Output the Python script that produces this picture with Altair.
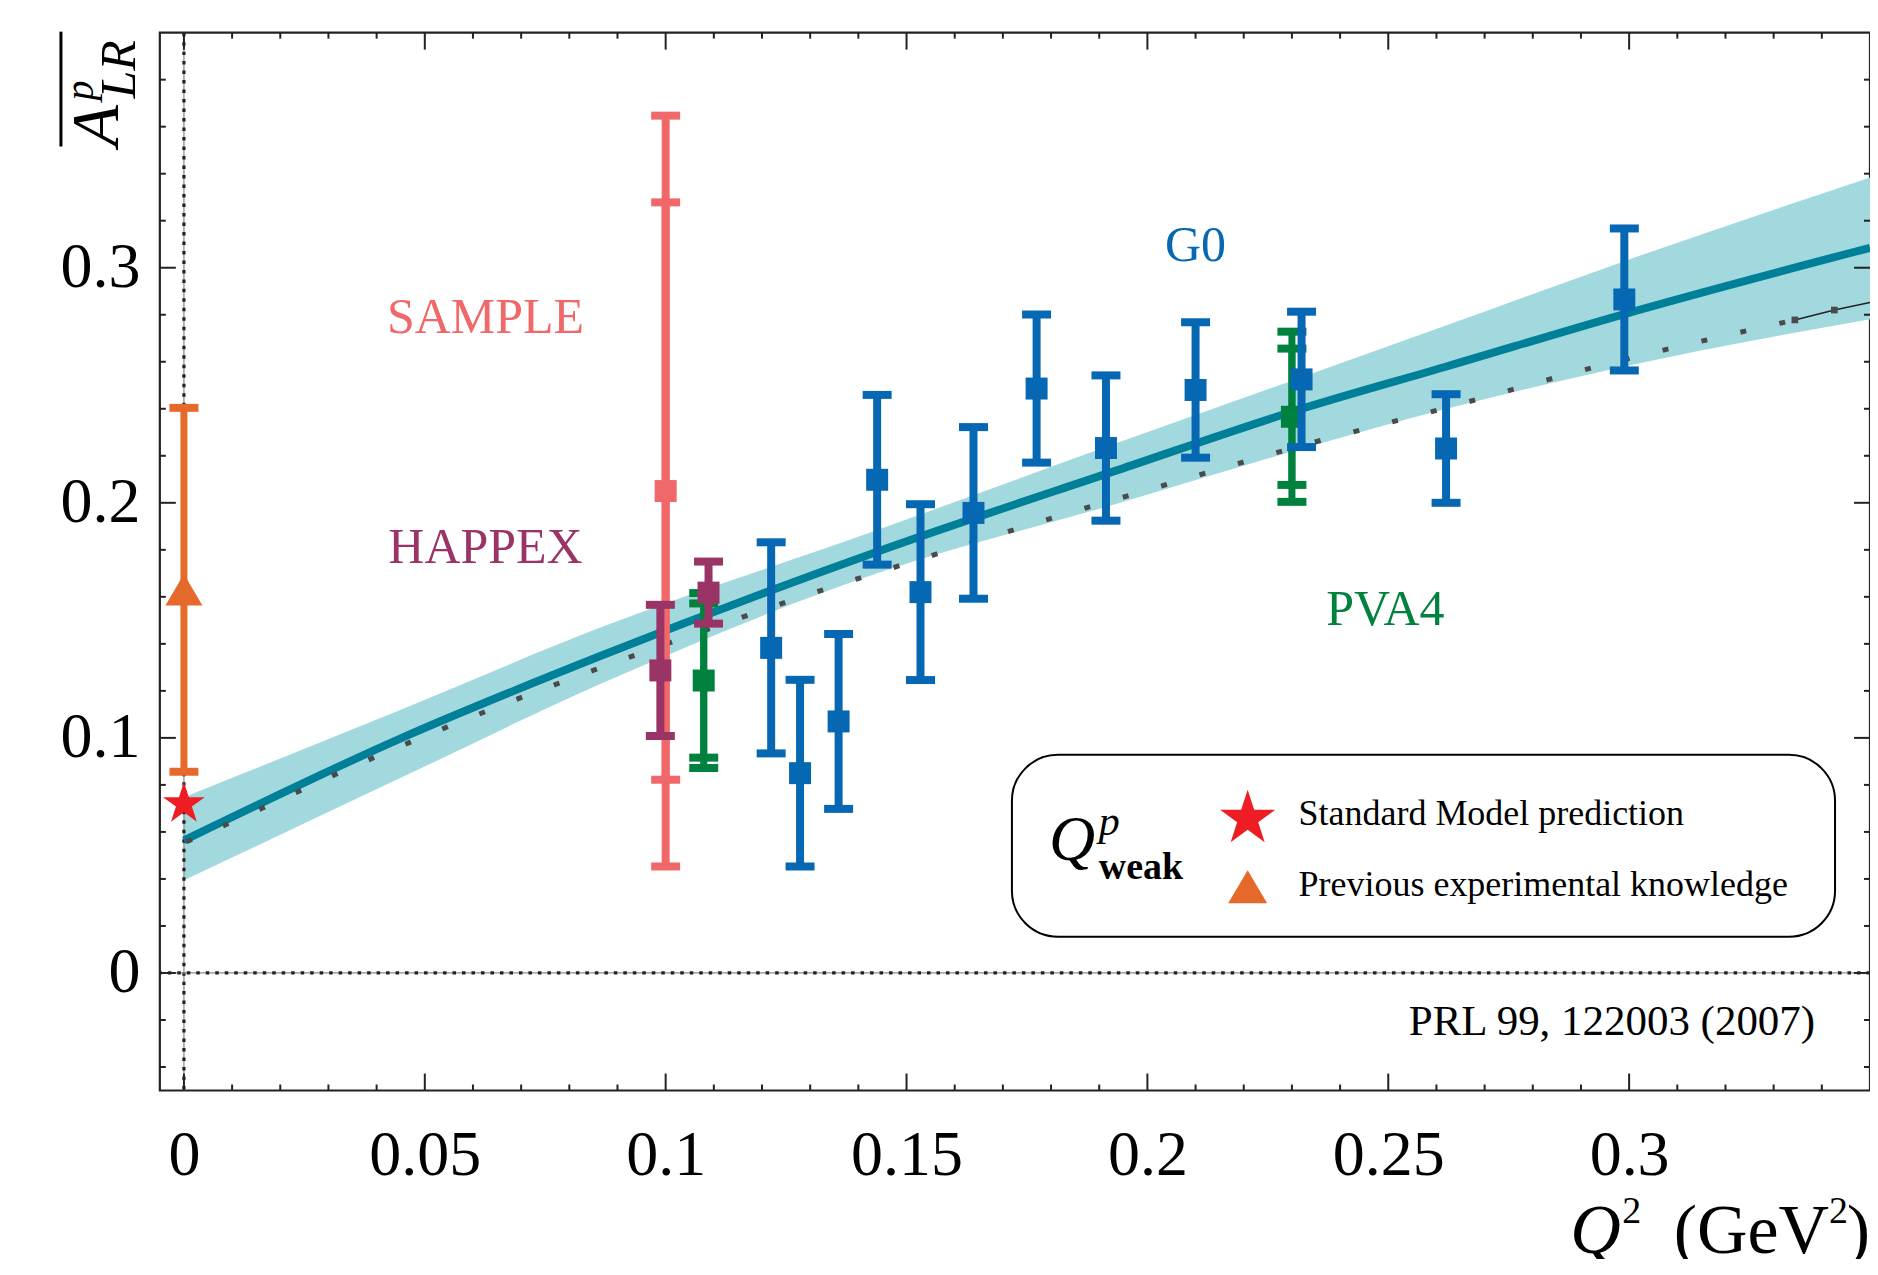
import altair as alt
import pandas as pd

# ------------------------------------------------------------------ data
g0_q2 = [0.1219, 0.1279, 0.1359, 0.1439, 0.1529, 0.1639, 0.1770, 0.1914, 0.2100, 0.2320, 0.2620, 0.2990]
g0_a = [0.1383, 0.0850, 0.1070, 0.2098, 0.1620, 0.1957, 0.2486, 0.2233, 0.2480, 0.2525, 0.2231, 0.2865]
g0_err = [0.0449, 0.0397, 0.0372, 0.0361, 0.0374, 0.0365, 0.0315, 0.0309, 0.0288, 0.0288, 0.0231, 0.0302]

happex_q2 = [0.0989, 0.1089]
happex_a = [0.1287, 0.1618]
happex_err = [0.0279, 0.0132]

pva4_q2 = [0.1079, 0.2300]
pva4_a = [0.1244, 0.2366]
pva4_stat = [0.0328, 0.0290]
pva4_tot = [0.0372, 0.0362]

sample_q2 = [0.1000]
sample_a = [0.2050]
sample_stat = [0.1228]
sample_tot = [0.1597]

prev_q2 = [0.0]
prev_a = [0.163]
prev_err = [0.0774]

sm_q2 = [0.0]
sm_a = [0.0719]

theory_q2 = [0.0, 0.0449, 0.0863, 0.1439, 0.1938, 0.2320, 0.2621, 0.2990, 0.3500]
theory_a = [0.0564, 0.0997, 0.1347, 0.1792, 0.2139, 0.2400, 0.2580, 0.2803, 0.3085]
band_lo = [0.0394, 0.0829, 0.1228, 0.1700, 0.1997, 0.2230, 0.2400, 0.2580, 0.2781]
band_hi = [0.0747, 0.1119, 0.1468, 0.1884, 0.2255, 0.2534, 0.2755, 0.3028, 0.3384]

dotted_q2 = [0.0005, 0.0079, 0.0377, 0.0678, 0.0831, 0.1139, 0.1294, 0.1528, 0.1683,
             0.1839, 0.1995, 0.2309, 0.2625, 0.2940, 0.3344]
dotted_a = [0.0558, 0.0624, 0.0901, 0.1154, 0.1273, 0.1499, 0.1608, 0.1760, 0.1860,
            0.1958, 0.2051, 0.2237, 0.2407, 0.2583, 0.2778]
tail_q2 = [0.3344, 0.3426, 0.3500]
tail_a = [0.2778, 0.2820, 0.2852]

x_major = [0, 0.05, 0.1, 0.15, 0.2, 0.25, 0.3]
x_minor = [0.01, 0.02, 0.03, 0.04, 0.06, 0.07, 0.08, 0.09, 0.11, 0.12, 0.13, 0.14,
           0.16, 0.17, 0.18, 0.19, 0.21, 0.22, 0.23, 0.24, 0.26, 0.27, 0.28, 0.29,
           0.31, 0.32, 0.33, 0.34]
y_major = [0, 0.1, 0.2, 0.3]
y_minor = [-0.04, -0.02, 0.02, 0.04, 0.06, 0.08, 0.12, 0.14, 0.16, 0.18,
           0.22, 0.24, 0.26, 0.28, 0.32, 0.34, 0.36, 0.38]

legend_labels = ["Standard Model prediction", "Previous experimental knowledge"]
reference_text = "PRL 99, 122003 (2007)"

# ------------------------------------------------------------------ styles
W, H = 1712, 1059
FONT = "Liberation Serif"
C_G0 = "#0667B2"
C_PVA4 = "#00813E"
C_HAPPEX = "#9A3366"
C_SAMPLE = "#F06869"
C_PREV = "#E5692A"
C_SM = "#EE1D24"
C_CURVE = "#007F98"
C_BAND = "#A2D9DE"
C_DOT = "#4A4A4A"
INK = "#222222"

STAR = ("M0,-1 L0.2245,-0.309 L0.9511,-0.309 L0.3633,0.118 L0.5878,0.809 "
        "L0,0.382 L-0.5878,0.809 L-0.3633,0.118 L-0.9511,-0.309 L-0.2245,-0.309 Z")
TRI = "M0,-0.85 L1,0.85 L-1,0.85 Z"

xs = alt.Scale(domain=[-0.005, 0.35], nice=False, zero=False)
ys = alt.Scale(domain=[-0.05, 0.4], nice=False, zero=False)

# identical axis definitions on every layer -> one merged axis per channel
AX = alt.Axis(orient="bottom", values=x_major, format="~g", title=None, ticks=False,
              tickSize=0, domain=False, grid=False, labelFont=FONT, labelFontSize=64,
              labelColor="black", labelPadding=33, labelFlush=False, zindex=3)
AY = alt.Axis(orient="left", values=y_major, format="~g", title=None, ticks=False,
              tickSize=0, domain=False, grid=False, labelFont=FONT, labelFontSize=64,
              labelColor="black", labelPadding=20, zindex=3)


def X(f):
    return alt.X(f, type="quantitative", scale=xs, axis=AX)


def Y(f):
    return alt.Y(f, type="quantitative", scale=ys, axis=AY)


one = pd.DataFrame({"k": [0]})

# ------------------------------------------------------------------ theory
band_df = pd.DataFrame({"q2": theory_q2, "lo": band_lo, "hi": band_hi})
band = alt.Chart(band_df).mark_area(color=C_BAND, opacity=1, interpolate="monotone").encode(
    x=X("q2"), y=Y("lo"), y2="hi:Q")

zero_df = pd.DataFrame({"v": [0.0]})
zero_v1 = alt.Chart(zero_df).mark_rule(color="#8C8C8C", strokeWidth=1.3).encode(x=X("v"))
zero_v2 = alt.Chart(zero_df).mark_rule(color=INK, strokeWidth=3.2, strokeDash=[3.5, 6]).encode(x=X("v"))
zero_h1 = alt.Chart(zero_df).mark_rule(color="#8C8C8C", strokeWidth=1.3).encode(y=Y("v"))
zero_h2 = alt.Chart(zero_df).mark_rule(color=INK, strokeWidth=3.2, strokeDash=[3.5, 6]).encode(y=Y("v"))

curve_df = pd.DataFrame({"q2": theory_q2, "a": theory_a})
curve = alt.Chart(curve_df).mark_line(color=C_CURVE, strokeWidth=8, interpolate="monotone").encode(
    x=X("q2"), y=Y("a"))

dot_df = pd.DataFrame({"q2": dotted_q2, "a": dotted_a})
dotted = alt.Chart(dot_df).mark_line(color=C_DOT, strokeWidth=5, strokeDash=[6, 34],
                                     interpolate="monotone").encode(x=X("q2"), y=Y("a"))
tail_df = pd.DataFrame({"q2": tail_q2, "a": tail_a})
tail = alt.Chart(tail_df).mark_line(color=INK, strokeWidth=1.5).encode(x=X("q2"), y=Y("a"))
tail_pts = alt.Chart(tail_df.iloc[:2]).mark_square(color=C_DOT, size=45, opacity=1).encode(
    x=X("q2"), y=Y("a"))


# ------------------------------------------------------------------ data points
def errbars(q2, a, err, color, width=8, cap=29, capw=8):
    df = pd.DataFrame({"q2": q2, "a": a, "err": err})
    df["lo"] = df["a"] - df["err"]
    df["hi"] = df["a"] + df["err"]
    base = alt.Chart(df)
    bar = base.mark_rule(color=color, strokeWidth=width).encode(x=X("q2"), y=Y("lo"), y2="hi:Q")
    c1 = base.mark_tick(color=color, orient="horizontal", size=cap, thickness=capw,
                        opacity=1).encode(x=X("q2"), y=Y("lo"))
    c2 = base.mark_tick(color=color, orient="horizontal", size=cap, thickness=capw,
                        opacity=1).encode(x=X("q2"), y=Y("hi"))
    return [bar, c1, c2]


def squares(q2, a, color):
    df = pd.DataFrame({"q2": q2, "a": a})
    return alt.Chart(df).mark_square(color=color, size=484, opacity=1).encode(x=X("q2"), y=Y("a"))


layers = [band, zero_v1, zero_v2, zero_h1, zero_h2, curve, dotted, tail, tail_pts]

layers += errbars(sample_q2, sample_a, sample_tot, C_SAMPLE, width=8)
layers += errbars(sample_q2, sample_a, sample_stat, C_SAMPLE, width=8)
layers.append(squares(sample_q2, sample_a, C_SAMPLE))

layers += errbars(pva4_q2, pva4_a, pva4_tot, C_PVA4, width=7)
layers += errbars(pva4_q2, pva4_a, pva4_stat, C_PVA4, width=7)
layers.append(squares(pva4_q2, pva4_a, C_PVA4))

layers += errbars(g0_q2, g0_a, g0_err, C_G0)
layers.append(squares(g0_q2, g0_a, C_G0))

layers += errbars(happex_q2, happex_a, happex_err, C_HAPPEX)
layers.append(squares(happex_q2, happex_a, C_HAPPEX))

layers += errbars(prev_q2, prev_a, prev_err, C_PREV, width=7)
prev_df = pd.DataFrame({"q2": prev_q2, "a": prev_a})
layers.append(alt.Chart(prev_df).mark_point(shape=TRI, filled=True, color=C_PREV, size=1369,
                                            opacity=1, strokeWidth=0).encode(x=X("q2"), y=Y("a")))
sm_df = pd.DataFrame({"q2": sm_q2, "a": sm_a})
layers.append(alt.Chart(sm_df).mark_point(shape=STAR, filled=True, color=C_SM, size=1936,
                                          opacity=1, strokeWidth=0).encode(x=X("q2"), y=Y("a")))


# ------------------------------------------------------------------ annotations
def label(text, qx, ay, color, size=50, align="center"):
    df = pd.DataFrame({"q2": [qx], "a": [ay]})
    return alt.Chart(df).mark_text(text=text, font=FONT, fontSize=size, color=color,
                                   align=align, baseline="alphabetic").encode(
        x=X("q2"), y=Y("a"))


layers += [
    label("SAMPLE", 0.0626, 0.2722, C_SAMPLE),
    label("HAPPEX", 0.0626, 0.1743, C_HAPPEX),
    label("G0", 0.2100, 0.3028, C_G0),
    label("PVA4", 0.2494, 0.1480, C_PVA4),
    label(reference_text, 0.3386, -0.0264, "black", size=43, align="right"),
]


# ------------------------------------------------------------------ inner ticks
def xticks(vals, length):
    df = pd.DataFrame({"v": vals})
    top = alt.Chart(df).mark_rule(color=INK, strokeWidth=2).encode(
        x=X("v"), y=alt.value(0), y2=alt.value(length))
    bot = alt.Chart(df).mark_rule(color=INK, strokeWidth=2).encode(
        x=X("v"), y=alt.value(H), y2=alt.value(H - length))
    return [top, bot]


def yticks(vals, length):
    df = pd.DataFrame({"v": vals})
    left = alt.Chart(df).mark_rule(color=INK, strokeWidth=2).encode(
        y=Y("v"), x=alt.value(0), x2=alt.value(length))
    right = alt.Chart(df).mark_rule(color=INK, strokeWidth=2).encode(
        y=Y("v"), x=alt.value(W), x2=alt.value(W - length))
    return [left, right]


layers += xticks(x_major, 17) + xticks(x_minor, 6) + yticks(y_major, 16) + yticks(y_minor, 6)


# ------------------------------------------------------------------ pixel-placed text helpers
def ptext(text, x, y, size, style="normal", weight="normal", align="left", angle=0):
    return alt.Chart(one).mark_text(text=text, font=FONT, fontSize=size, fontStyle=style,
                                    fontWeight=weight, align=align, baseline="alphabetic",
                                    angle=angle, color="black").encode(
        x=alt.value(x), y=alt.value(y))


# ------------------------------------------------------------------ legend box
layers.append(alt.Chart(one).mark_rect(fill="white", stroke="black", strokeWidth=2,
                                       cornerRadius=46).encode(
    x=alt.value(853), x2=alt.value(1677), y=alt.value(723), y2=alt.value(905)))
layers.append(alt.Chart(one).mark_point(shape=STAR, filled=True, color=C_SM, size=3364,
                                        opacity=1, strokeWidth=0).encode(
    x=alt.value(1089), y=alt.value(787)))
layers.append(alt.Chart(one).mark_point(shape=TRI, filled=True, color=C_PREV, size=1521,
                                        opacity=1, strokeWidth=0).encode(
    x=alt.value(1089), y=alt.value(855)))
layers.append(ptext(legend_labels[0], 1140, 793, 36))
layers.append(ptext(legend_labels[1], 1140, 864, 36))
layers.append(ptext("Q", 890, 828, 64, style="italic"))
layers.append(ptext("p", 940, 803, 42, style="italic"))
layers.append(ptext("weak", 940, 847, 38, weight="bold"))

# ------------------------------------------------------------------ axis titles
# y title: overline A^p_LR, rotated
layers.append(alt.Chart(one).mark_rule(color="black", strokeWidth=3).encode(
    x=alt.value(-99), y=alt.value(-1), y2=alt.value(114)))
layers.append(ptext("A", -42, 114, 68, style="italic", angle=270))
layers.append(ptext("p", -67, 68, 40, style="italic", angle=270))
layers.append(ptext("LR", -25, 66, 50, style="italic", angle=270))
# x title: Q^2 (GeV^2)
layers.append(ptext(")", 1712, 1222, 70, align="right"))
layers.append(ptext("2", 1690, 1192, 38, align="right"))
layers.append(ptext("(GeV", 1671, 1222, 70, align="right"))
layers.append(ptext("Q", 1412, 1222, 70, style="italic"))
layers.append(ptext("2", 1464, 1192, 38))

chart = alt.layer(*layers).properties(
    width=W, height=H,
    autosize=alt.AutoSizeParams(type="none"),
    padding={"left": 152, "top": 24, "right": 0, "bottom": 168},
    background="white",
).configure_view(stroke=INK, strokeWidth=2.2)

chart.save("out.html", embed_options={"renderer": "svg", "actions": False})
